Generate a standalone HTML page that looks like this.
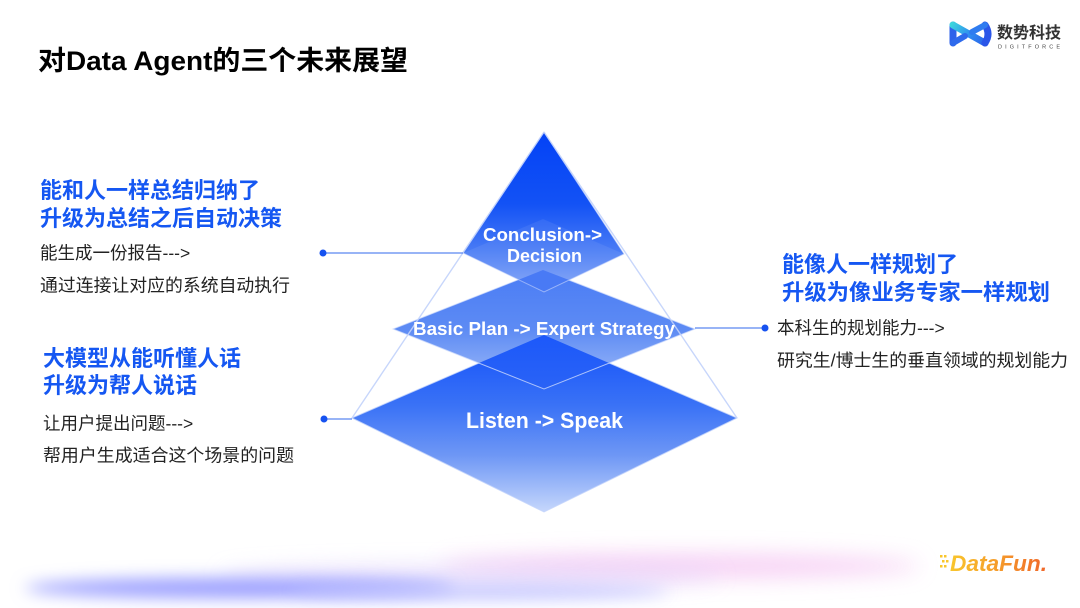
<!DOCTYPE html>
<html>
<head>
<meta charset="utf-8">
<style>
html,body{margin:0;padding:0;background:#fff;}
svg{display:block;}
.cjk{font-family:"Liberation Sans","Noto Sans CJK SC",sans-serif;}
</style>
</head>
<body>
<svg width="1080" height="608" viewBox="0 0 1080 608" xmlns="http://www.w3.org/2000/svg">
<defs>
  <filter id="blur1" x="-50%" y="-200%" width="200%" height="500%"><feGaussianBlur stdDeviation="8"/></filter>
  <filter id="blur2" x="-50%" y="-200%" width="200%" height="500%"><feGaussianBlur stdDeviation="11"/></filter>
  <linearGradient id="gBot" x1="0" y1="335" x2="0" y2="512" gradientUnits="userSpaceOnUse">
    <stop offset="0" stop-color="#1250fa"/>
    <stop offset="0.4" stop-color="#3a72f6"/>
    <stop offset="0.68" stop-color="#6e97f5"/>
    <stop offset="1" stop-color="#c6d7fc"/>
  </linearGradient>
  <linearGradient id="gMid" x1="0" y1="270" x2="0" y2="389" gradientUnits="userSpaceOnUse">
    <stop offset="0" stop-color="#4a7cf5"/>
    <stop offset="0.5" stop-color="#5d8bf4"/>
    <stop offset="1" stop-color="#a2bdf8"/>
  </linearGradient>
  <linearGradient id="gOv" x1="0" y1="335" x2="0" y2="389" gradientUnits="userSpaceOnUse">
    <stop offset="0" stop-color="#1c58fa"/>
    <stop offset="1" stop-color="#2a63f6"/>
  </linearGradient>
  <linearGradient id="gTop" x1="0" y1="132" x2="0" y2="292" gradientUnits="userSpaceOnUse">
    <stop offset="0" stop-color="#0342f6"/>
    <stop offset="0.45" stop-color="#1352f5"/>
    <stop offset="0.75" stop-color="#4a7cf5"/>
    <stop offset="1" stop-color="#82a5f7"/>
  </linearGradient>
  <linearGradient id="gLogo" x1="948" y1="20" x2="992" y2="48" gradientUnits="userSpaceOnUse">
    <stop offset="0" stop-color="#3ee6d8"/>
    <stop offset="0.5" stop-color="#2f8cf0"/>
    <stop offset="1" stop-color="#2a52e8"/>
  </linearGradient>
  <linearGradient id="gDF" x1="950" y1="0" x2="1048" y2="0" gradientUnits="userSpaceOnUse">
    <stop offset="0" stop-color="#f9c62c"/>
    <stop offset="0.5" stop-color="#f59a2a"/>
    <stop offset="1" stop-color="#f0652a"/>
  </linearGradient>
</defs>

<!-- bottom decorative blobs -->
<ellipse cx="680" cy="566" rx="240" ry="12" fill="#f5c8f3" opacity="0.85" filter="url(#blur2)"/>
<ellipse cx="470" cy="576" rx="250" ry="10" fill="#e2d6fb" opacity="0.75" filter="url(#blur2)"/>
<ellipse cx="240" cy="588" rx="215" ry="10" fill="#9a9eff" opacity="1" filter="url(#blur1)"/>
<ellipse cx="480" cy="592" rx="190" ry="8" fill="#bfc2ff" opacity="0.85" filter="url(#blur1)"/>

<!-- title -->
<text x="38" y="70" class="cjk" font-size="27" font-weight="bold" fill="#000" textLength="370" lengthAdjust="spacingAndGlyphs">对Data Agent的三个未来展望</text>

<!-- logo top right -->
<g fill="none" stroke-linecap="round" stroke-linejoin="round">
  <path d="M953,25 L953,43" stroke="#2d62ea" stroke-width="7"/>
  <path d="M953,25 L985,43" stroke="url(#gLogo)" stroke-width="7"/>
  <path d="M985,25 Q991,34 985,43" stroke="#2a55e8" stroke-width="7"/>
  <path d="M985,25 L972,32" stroke="#2f7cf0" stroke-width="6"/>
  <path d="M953,43 L965,36" stroke="#2e6aec" stroke-width="6"/>
</g>
<text x="997" y="38" class="cjk" font-size="16" font-weight="bold" fill="#333">数势科技</text>
<text x="998" y="48.5" font-family="Liberation Sans, sans-serif" font-size="5.5" fill="#444" textLength="62" lengthAdjust="spacing">DIGITFORCE</text>

<!-- DataFun logo -->
<g fill="#f9c62c">
  <rect x="940" y="555" width="2.5" height="2.5"/>
  <rect x="944" y="555" width="2.5" height="2.5"/>
  <rect x="942" y="560" width="2.5" height="2.5"/>
  <rect x="946" y="560" width="2.5" height="2.5"/>
  <rect x="940" y="565" width="2.5" height="2.5"/>
  <rect x="944" y="565" width="2.5" height="2.5"/>
</g>
<text x="950" y="571" font-family="Liberation Sans, sans-serif" font-size="22" font-weight="bold" font-style="italic" fill="url(#gDF)" textLength="97" lengthAdjust="spacingAndGlyphs">DataFun.</text>

<!-- pyramid -->
<polygon points="544,335 737,418 544,512 352,418" fill="url(#gBot)" stroke="#c4d4fb" stroke-width="1" stroke-opacity="0.8"/>
<polygon points="543,270 695,329 544,389 393,329" fill="url(#gMid)"/>
<!-- overlap of middle with bottom -->
<polygon points="544,335 609,363 544,389 479,363" fill="url(#gOv)"/>
<polygon points="543,270 695,329 544,389 393,329" fill="none" stroke="#d2defc" stroke-width="1" stroke-opacity="0.75"/>
<polygon points="544,132 624,254 544,292 463,253" fill="url(#gTop)"/>
<!-- overlap of top with middle -->
<polygon points="543,270 569,280 544,292 518,280" fill="#3c70f5"/>
<polygon points="544,132 624,254 544,292 463,253" fill="none" stroke="#c8d6fb" stroke-width="1" stroke-opacity="0.6"/>
<polygon points="543,219 624,254 544,292 463,253" fill="#ffffff" opacity="0.07"/>
<!-- outline of big pyramid -->
<line x1="544" y1="132" x2="352" y2="418" stroke="#c2d2fb" stroke-width="1.4" opacity="0.9"/>
<line x1="544" y1="132" x2="737" y2="418" stroke="#c2d2fb" stroke-width="1.4" opacity="0.9"/>

<!-- pyramid labels -->
<g font-family="Liberation Sans, sans-serif" font-weight="bold" fill="#fff">
  <text x="483" y="241" font-size="18.5" textLength="119" lengthAdjust="spacingAndGlyphs">Conclusion-&gt;</text>
  <text x="507" y="262" font-size="18.5" textLength="75" lengthAdjust="spacingAndGlyphs">Decision</text>
  <text x="413" y="335" font-size="18" textLength="262" lengthAdjust="spacingAndGlyphs">Basic Plan -&gt; Expert Strategy</text>
  <text x="466" y="428" font-size="22" textLength="157" lengthAdjust="spacingAndGlyphs">Listen -&gt; Speak</text>
</g>

<!-- connectors -->
<g stroke="#5a86f0" stroke-width="1.2">
  <line x1="323" y1="253" x2="463" y2="253"/>
  <line x1="324" y1="419" x2="352" y2="419"/>
  <line x1="695" y1="328" x2="765" y2="328"/>
</g>
<g fill="#1652f0">
  <circle cx="323" cy="253" r="3.5"/>
  <circle cx="324" cy="419" r="3.5"/>
  <circle cx="765" cy="328" r="3.5"/>
</g>

<!-- left block 1 -->
<g class="cjk">
  <text x="40" y="198" font-size="22" font-weight="bold" fill="#1557f2">能和人一样总结归纳了</text>
  <text x="40" y="226" font-size="22" font-weight="bold" fill="#1557f2">升级为总结之后自动决策</text>
  <text x="40" y="259" font-size="17.5" fill="#222">能生成一份报告---&gt;</text>
  <text x="40" y="291.5" font-size="17.5" fill="#222" textLength="250" lengthAdjust="spacingAndGlyphs">通过连接让对应的系统自动执行</text>
</g>

<!-- left block 2 -->
<g class="cjk">
  <text x="43" y="366" font-size="22" font-weight="bold" fill="#1557f2">大模型从能听懂人话</text>
  <text x="43" y="393" font-size="22" font-weight="bold" fill="#1557f2">升级为帮人说话</text>
  <text x="43" y="429.5" font-size="17.5" fill="#222">让用户提出问题---&gt;</text>
  <text x="43" y="461.5" font-size="17.5" fill="#222" textLength="251" lengthAdjust="spacingAndGlyphs">帮用户生成适合这个场景的问题</text>
</g>

<!-- right block -->
<g class="cjk">
  <text x="782" y="272" font-size="22" font-weight="bold" fill="#1557f2">能像人一样规划了</text>
  <text x="782" y="300" font-size="22" font-weight="bold" fill="#1557f2" textLength="268" lengthAdjust="spacingAndGlyphs">升级为像业务专家一样规划</text>
  <text x="777" y="334" font-size="17.5" fill="#222">本科生的规划能力---&gt;</text>
  <text x="777" y="366.5" font-size="17.5" fill="#222" textLength="291" lengthAdjust="spacingAndGlyphs">研究生/博士生的垂直领域的规划能力</text>
</g>
</svg>
</body>
</html>
